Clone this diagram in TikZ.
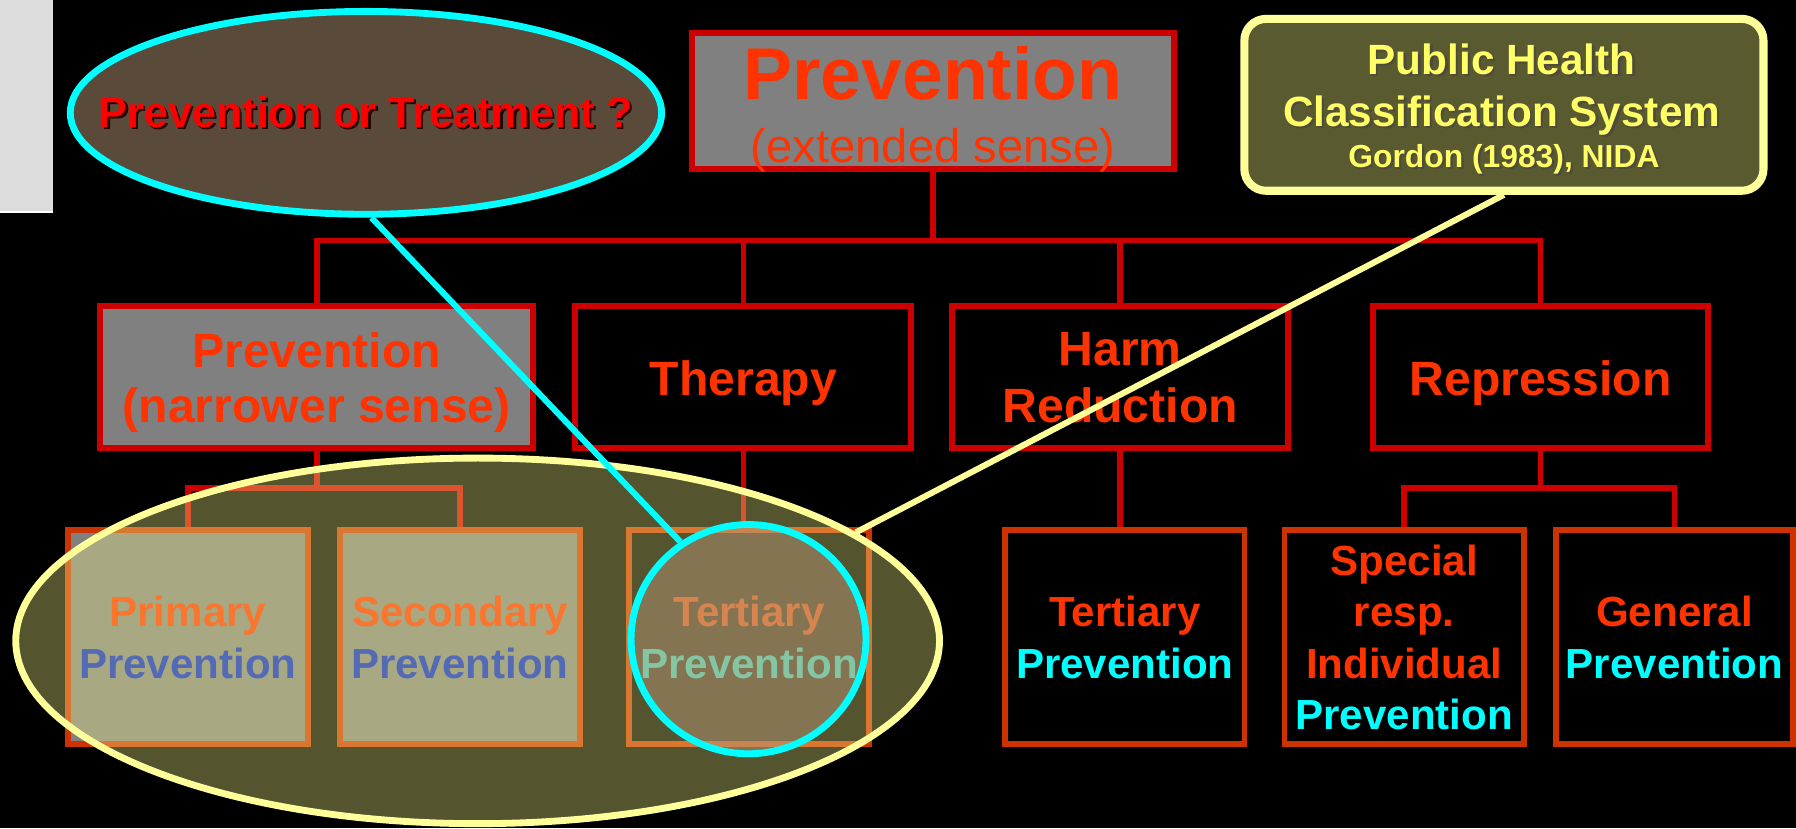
\documentclass[tikz,border=0pt]{standalone}
\usepackage{fontspec}
\setmainfont{Liberation Sans}
\usetikzlibrary{shapes.geometric}
\definecolor{boxred}{HTML}{CC0000}
\definecolor{lvred}{HTML}{CC3300}
\definecolor{tred}{HTML}{FF3300}
\definecolor{gfill}{HTML}{808080}
\definecolor{cyanc}{HTML}{00FFFF}
\definecolor{yel}{HTML}{FFFF99}
\definecolor{yeltext}{HTML}{FFFF66}
\definecolor{phfill}{HTML}{5A5A30}
\definecolor{ptfill}{HTML}{5A4A3A}
\definecolor{lgrey}{HTML}{DCDCDC}
\definecolor{bluet}{HTML}{0022CC}
\definecolor{yfill}{HTML}{F3F389}
\definecolor{cfill}{HTML}{B49474}
\begin{document}
\begin{tikzpicture}[x=0.01cm,y=-0.01cm,
  topbox/.style={draw=boxred, line width=1.5pt, fill=gfill, minimum width=4.20cm, minimum height=1.19cm, inner sep=0pt},
  lvtwo/.style={draw=boxred, line width=1.5pt, minimum width=2.93cm, minimum height=1.24cm, inner sep=0pt},
  lvthree/.style={draw=lvred, line width=1.45pt, minimum width=2.09cm, minimum height=1.87cm, inner sep=0pt},
  conn/.style={draw=boxred, line width=1.4pt},
  ttwo/.style={text=tred, font=\fontsize{11.95}{14}\selectfont\bfseries, anchor=base, inner sep=0pt},
  tthree/.style={text=tred, font=\fontsize{10.45}{12}\selectfont\bfseries, anchor=base, inner sep=0pt},
  tcy/.style={tthree, text=cyanc},
  tbl/.style={tthree, text=bluet},
  pht/.style={font=\fontsize{10.5}{12}\selectfont\bfseries, anchor=base, inner sep=0pt},
  phs/.style={font=\fontsize{7.9}{9}\selectfont\bfseries, anchor=base, inner sep=0pt}
]
\useasboundingbox (0,0) rectangle (1568,723);
\fill[black] (0,0) rectangle (1568,723);
\fill[lgrey] (0,0) rectangle (46,185);
\fill[white] (0,184) rectangle (46,186);

% boxes
\node[topbox] (top) at (814.5,88) {};
\node[lvtwo, fill=gfill, minimum width=3.78cm] (pn) at (276.5,329) {};
\node[lvtwo, fill=black] (th) at (649,329) {};
\node[lvtwo, fill=black] (hr) at (978,329) {};
\node[lvtwo, fill=black] (rep) at (1345,329) {};
\node[lvthree, fill=gfill] (pl) at (164,556) {};
\node[lvthree, fill=gfill] (sl) at (401.5,556) {};
\node[lvthree, fill=black] (tl) at (654,556) {};
\node[lvthree, fill=black] (tr) at (982,556) {};
\node[lvthree, fill=black] (sp) at (1226,556) {};
\node[lvthree, fill=black, minimum width=2.07cm] (ge) at (1462,556) {};

% connectors
\coordinate (j1) at (814.5,210);
\coordinate (j2) at (276.5,426);
\coordinate (j3) at (1345,426);
\draw[conn] (top.south) -- (j1);
\draw[conn] (pn.north) |- (j1) -| (rep.north);
\draw[conn] (th.north) -- (th.north |- j1);
\draw[conn] (hr.north) -- (hr.north |- j1);
\draw[conn] (pn.south) -- (j2);
\draw[conn] (pl.north) |- (j2) -| (sl.north);
\draw[conn] (th.south) -- (th.south |- tl.north);
\draw[conn] (hr.south) -- (hr.south |- tr.north);
\draw[conn] (rep.south) -- (j3);
\draw[conn] (sp.north) |- (j3) -| (ge.north);

% texts
\node[text=tred, font=\fontsize{18.2}{20}\selectfont\bfseries, anchor=base, inner sep=0pt] (topa) at (814.5,87) {Prevention};
\node[text=tred, font=\fontsize{11.7}{13}\selectfont, anchor=base, inner sep=0pt] (topb) at (814.5,142) {(extended sense)};
\node[ttwo] (pna) at (276.5,321) {Prevention};
\node[ttwo] (pnb) at (276.5,369) {(narrower sense)};
\node[ttwo] (tha) at (649,345) {Therapy};
\node[ttwo] (hra) at (978,319) {Harm};
\node[ttwo] (hrb) at (978,369) {Reduction};
\node[ttwo] (repa) at (1345,345) {Repression};
\node[tthree] (pla) at (164,547) {Primary};
\node[tbl] (plb) at (164,592) {Prevention};
\node[tthree] (sla) at (401.5,547) {Secondary};
\node[tbl] (slb) at (401.5,592) {Prevention};
\node[tthree] (tla) at (654,547) {Tertiary};
\node[tcy] (tlb) at (654,592) {Prevention};
\node[tthree] (tra) at (982,547) {Tertiary};
\node[tcy] (trb) at (982,592) {Prevention};
\node[tthree] (spa) at (1226,502) {Special};
\node[tthree] (spb) at (1226,547) {resp.};
\node[tthree] (spc) at (1226,592) {Individual};
\node[tcy] (spd) at (1226,637) {Prevention};
\node[tthree] (gea) at (1462,547) {General};
\node[tcy] (geb) at (1462,592) {Prevention};

% overlays
\node[ellipse, draw=yel, line width=1.7pt, fill=yfill, fill opacity=0.35, minimum width=8.06cm, minimum height=3.19cm, inner sep=0pt] (ye) at (417,559.5) {};
\node[ellipse, draw=cyanc, line width=1.7pt, fill=cfill, fill opacity=0.5, minimum width=2.05cm, minimum height=2.0cm, inner sep=0pt] (ci) at (653.5,558) {};

% top-left callout
\node[ellipse, draw=cyanc, line width=1.7pt, fill=ptfill, minimum width=5.16cm, minimum height=1.77cm, inner sep=0pt] (pt) at (319.5,98.5) {};
\node[text=black!85!red, font=\fontsize{10.7}{12}\selectfont\bfseries, anchor=base, inner sep=0pt] (pts) at (321.5,113) {Prevention or Treatment ?};
\node[text=red, font=\fontsize{10.7}{12}\selectfont\bfseries, anchor=base, inner sep=0pt] (ptt) at (319.5,111) {Prevention or Treatment ?};

% top-right callout
\node[rectangle, rounded corners=0.19cm, draw=yel, line width=2pt, fill=phfill, minimum width=4.53cm, minimum height=1.50cm, inner sep=0pt] (ph) at (1313,91.5) {};
\node[pht, text=black!80!yellow] (ph1s) at (1313,67) {Public Health};
\node[pht, text=yeltext] (ph1) at (1311,65) {Public Health};
\node[pht, text=black!80!yellow] (ph2s) at (1313,112) {Classification System};
\node[pht, text=yeltext] (ph2) at (1311,110) {Classification System};
\node[phs, text=black!80!yellow] (ph3s) at (1315,148) {Gordon (1983), NIDA};
\node[phs, text=yeltext] (ph3) at (1313,146) {Gordon (1983), NIDA};

% callout lines
\draw[cyanc, line width=1.5pt] (pt.-87) -- (ci.125);
\draw[yel, line width=1.5pt] (ph.south) -- (ye.16.6);
\end{tikzpicture}
\end{document}
